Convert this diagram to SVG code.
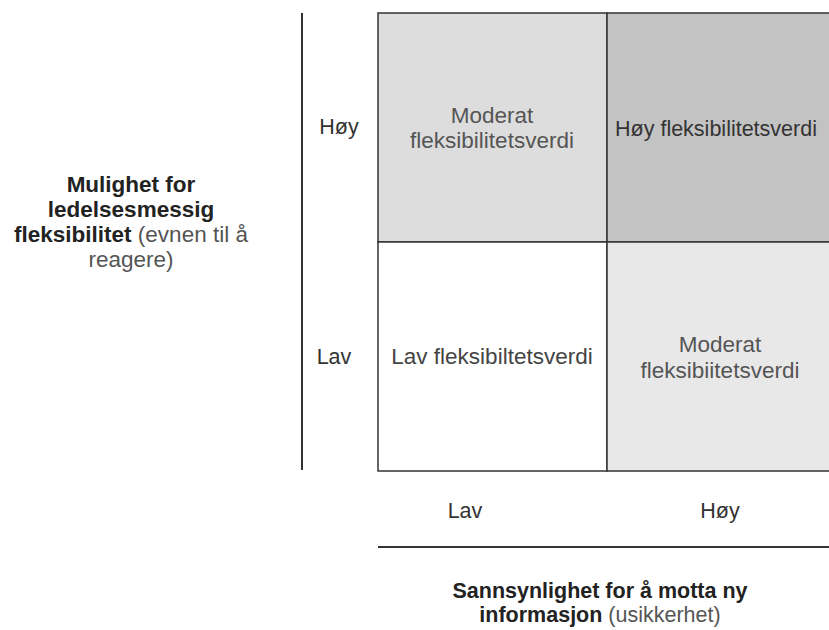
<svg xmlns="http://www.w3.org/2000/svg" width="829" height="630" viewBox="0 0 829 630">
<style>
text{font-family:"Liberation Sans",Arial,sans-serif;font-size:22.5px;text-anchor:middle;fill:#333}
.cell{stroke:#333;stroke-width:1.5}
.b{font-weight:bold;fill:#222}
.g{fill:#555}
.axis{stroke:#333;stroke-width:2;fill:none}
.sm{font-size:21.5px}
</style>
<rect width="829" height="630" fill="#fff"/>
<g id="cell-tl">
<rect class="cell" x="378" y="13" width="229" height="229" fill="#dddddd"/>
<text class="g" x="492" y="123">Moderat</text>
<text class="g" x="492" y="148">fleksibilitetsverdi</text>
</g>
<g id="cell-tr">
<rect class="cell" x="607" y="13" width="229" height="229" fill="#c3c3c3"/>
<text class="sm" x="716" y="136">Høy fleksibilitetsverdi</text>
</g>
<g id="cell-bl">
<rect class="cell" x="378" y="242" width="229" height="229" fill="#ffffff"/>
<text style="fill:#444" x="492" y="364">Lav fleksibiltetsverdi</text>
</g>
<g id="cell-br">
<rect class="cell" x="607" y="242" width="229" height="229" fill="#e8e8e8"/>
<text class="g" x="720" y="352">Moderat</text>
<text class="g" x="720" y="378">fleksibiitetsverdi</text>
</g>
<g id="connectors">
<line class="axis" x1="302" y1="13" x2="302" y2="470"/>
<line class="axis" x1="378" y1="547" x2="829" y2="547"/>
</g>
<g id="y-labels">
<text class="sm" x="339" y="134">Høy</text>
<text class="sm" x="334" y="364">Lav</text>
</g>
<g id="x-labels">
<text class="sm" x="465" y="518">Lav</text>
<text class="sm" x="720" y="518">Høy</text>
</g>
<g id="y-title">
<text class="b" x="131" y="192">Mulighet for</text>
<text class="b" x="131" y="217">ledelsesmessig</text>
<text x="131" y="242"><tspan class="b">fleksibilitet</tspan><tspan class="g"> (evnen til å</tspan></text>
<text class="g" x="131" y="267">reagere)</text>
</g>
<g id="x-title">
<text class="b sm" x="600" y="598">Sannsynlighet for å motta ny</text>
<text class="sm" x="600" y="622"><tspan class="b">informasjon</tspan><tspan class="g"> (usikkerhet)</tspan></text>
</g>
</svg>
